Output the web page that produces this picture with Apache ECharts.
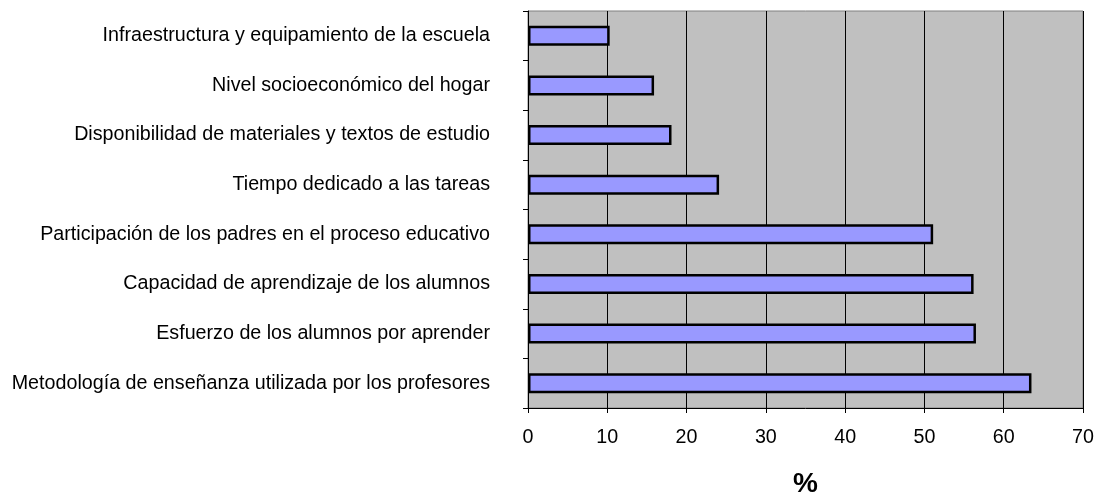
<!DOCTYPE html>
<html>
<head>
<meta charset="utf-8">
<script src="https://cdn.jsdelivr.net/npm/echarts@6/dist/echarts.min.js"></script>
<style>html,body{margin:0;padding:0;background:#fff}#c{width:1098px;height:497px}</style>
</head>
<body>
<div id="c"></div>
<script>
const categories = [
  "Infraestructura y equipamiento de la escuela",
  "Nivel socioeconómico del hogar",
  "Disponibilidad de materiales y textos de estudio",
  "Tiempo dedicado a las tareas",
  "Participación de los padres en el proceso educativo",
  "Capacidad de aprendizaje de los alumnos",
  "Esfuerzo de los alumnos por aprender",
  "Metodología de enseñanza utilizada por los profesores"
];
const values = [10.3, 15.9, 18.1, 24.1, 51.1, 56.2, 56.5, 63.5];
const axisName = "%";

const FONT = 'Liberation Sans, Arial, sans-serif';
const chart = echarts.init(document.getElementById('c'), null, {renderer: 'canvas'});
chart.setOption({
  animation: false,
  textStyle: {fontFamily: FONT},
  grid: {left: 528, right: 15, top: 11, bottom: 89, outerBoundsMode: 'none', containLabel: false,
         show: true, backgroundColor: '#C0C0C0', borderColor: '#808080', borderWidth: 1},
  xAxis: {
    type: 'value', min: 0, max: 70, interval: 10,
    axisLine: {show: true, lineStyle: {color: '#000', width: 1}},
    axisTick: {show: true, length: 5, lineStyle: {color: '#000'}},
    splitLine: {show: true, lineStyle: {color: '#000', width: 1}},
    axisLabel: {color: '#000', fontSize: 19.7, margin: 20, fontFamily: FONT},
    name: axisName, nameLocation: 'middle', nameGap: 62,
    nameTextStyle: {color: '#000', fontSize: 28, fontWeight: 'bold', fontFamily: FONT}
  },
  yAxis: {
    type: 'category', data: categories, inverse: true,
    axisLine: {show: true, lineStyle: {color: '#000', width: 1}},
    axisTick: {show: true, length: 5, lineStyle: {color: '#000'}},
    axisLabel: {color: '#000', fontSize: 19.7, margin: 38, fontFamily: FONT},
    splitLine: {show: false}
  },
  series: [{
    type: 'bar', data: values, barWidth: 20,
    itemStyle: {color: '#9999FF', borderColor: '#000', borderWidth: 2.5}
  }]
});
</script>
</body>
</html>
